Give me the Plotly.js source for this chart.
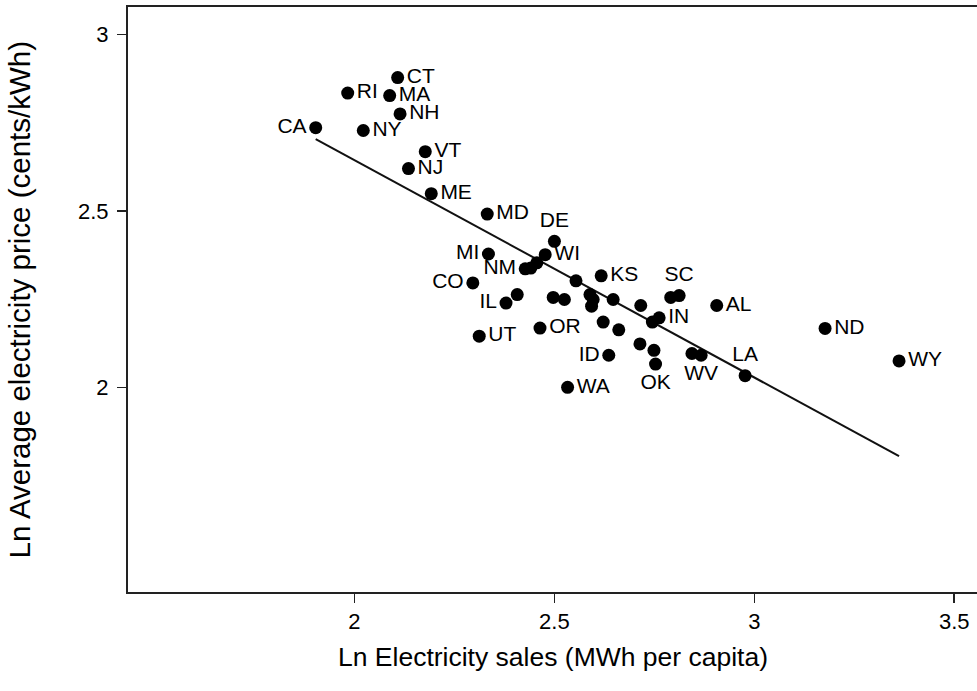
<!DOCTYPE html>
<html>
<head>
<meta charset="utf-8">
<script src="https://cdn.plot.ly/plotly-3.0.1.min.js"></script>
<style>html,body{margin:0;padding:0;background:#fff;}#chart{width:977px;height:691px;}</style>
</head>
<body>
<div id="chart"></div>
<script>
// Ln electricity sales (MWh per capita)
const lnSales = [2.108,1.983,2.088,2.114,1.903,2.022,2.177,2.135,2.192,2.332,
  2.500,2.335,2.477,2.427,2.441,2.456,2.296,2.617,2.554,2.379,
  2.407,2.497,2.525,2.589,2.597,2.593,2.647,2.716,2.791,2.812,
  2.906,2.745,2.762,2.312,2.464,2.622,2.661,2.714,2.749,2.753,
  2.636,2.533,2.844,2.867,2.977,3.177,3.362];
// Ln average electricity price (cents/kWh)
const lnPrice = [2.878,2.834,2.827,2.775,2.736,2.728,2.668,2.620,2.549,2.491,
  2.414,2.378,2.376,2.336,2.338,2.353,2.296,2.316,2.302,2.239,
  2.263,2.255,2.249,2.263,2.249,2.230,2.249,2.232,2.255,2.260,
  2.232,2.185,2.197,2.145,2.168,2.185,2.163,2.123,2.105,2.066,
  2.091,2.000,2.096,2.091,2.033,2.167,2.075];
// state labels ('' = unlabeled)
const stateLabels = ['CT','RI','MA','NH','CA','NY','VT','NJ','ME','MD',
  'DE','MI','WI','NM','','','CO','KS','','IL',
  '','','','','','','','','','SC',
  'AL','','IN','UT','OR','','','','','OK',
  'ID','WA','','WV','LA','ND','WY'];
const labelPos = ['R','R','R','R','L','R','R','R','R','R',
  'T','L','R','L','R','R','L','R','R','L',
  'R','R','R','R','R','R','R','R','R','T',
  'R','R','R','R','R','R','R','R','R','B',
  'L','R','R','B','T','R','R'];
// fitted regression line
const fitIntercept = 3.876;
const fitSlope = -0.616;
const xTickVals = [2, 2.5, 3, 3.5];
const xTickText = ['2', '2.5', '3', '3.5'];
const yTickVals = [2, 2.5, 3];
const yTickText = ['2', '2.5', '3'];
const xTitle = 'Ln Electricity sales (MWh per capita)';
const yTitle = 'Ln Average electricity price (cents/kWh)';

const posMap = {R:'middle right', L:'middle left', T:'top center', B:'bottom center'};
const textPositions = labelPos.map(p => posMap[p]);

const xMin = Math.min(...lnSales), xMax = Math.max(...lnSales);
const fitX = [xMin, xMax];
const fitY = fitX.map(v => fitIntercept + fitSlope * v);

const font = 'Liberation Sans, Arial, Helvetica, sans-serif';

const traces = [
  {
    x: fitX, y: fitY, type: 'scatter', mode: 'lines',
    line: {color: '#111', width: 2}, hoverinfo: 'skip', showlegend: false
  },
  {
    x: lnSales, y: lnPrice, type: 'scatter', mode: 'markers+text',
    text: stateLabels, textposition: textPositions,
    textfont: {family: font, size: 21, color: '#000'},
    marker: {color: '#000', size: 13},
    showlegend: false, cliponaxis: false
  }
];

const layout = {
  width: 977, height: 691,
  margin: {l: 128, r: 0, t: 7, b: 99},
  paper_bgcolor: '#fff', plot_bgcolor: '#fff',
  font: {family: font, color: '#000'},
  showlegend: false,
  xaxis: {
    range: [1.4335, 3.557],
    tickvals: xTickVals, ticktext: xTickText,
    ticks: 'outside', ticklen: 9, tickwidth: 1.5, tickcolor: '#222',
    showline: true, linewidth: 2, linecolor: '#222', mirror: true,
    showgrid: false, zeroline: false,
    tickfont: {family: font, size: 22, color: '#000'}
  },
  yaxis: {
    range: [1.42, 3.078],
    tickvals: yTickVals, ticktext: yTickText,
    ticks: 'outside', ticklen: 9, tickwidth: 1.5, tickcolor: '#222',
    ticklabelstandoff: 4,
    showline: true, linewidth: 2, linecolor: '#222', mirror: false,
    showgrid: false, zeroline: false,
    tickfont: {family: font, size: 22, color: '#000'}
  },
  annotations: [
    {text: xTitle, xref: 'paper', yref: 'paper', x: 0.5, y: 0, xanchor: 'center', yanchor: 'middle',
     yshift: -(657 - 592), showarrow: false, font: {family: font, size: 26.5, color: '#000'}},
    {text: yTitle, xref: 'paper', yref: 'paper', x: 0, y: 0.5, xanchor: 'center', yanchor: 'middle',
     xshift: -(128 - 19), yshift: 0, textangle: -90, showarrow: false, font: {family: font, size: 29.5, color: '#000'}}
  ]
};

Plotly.newPlot('chart', traces, layout, {displayModeBar: false, staticPlot: true});
</script>
</body>
</html>
